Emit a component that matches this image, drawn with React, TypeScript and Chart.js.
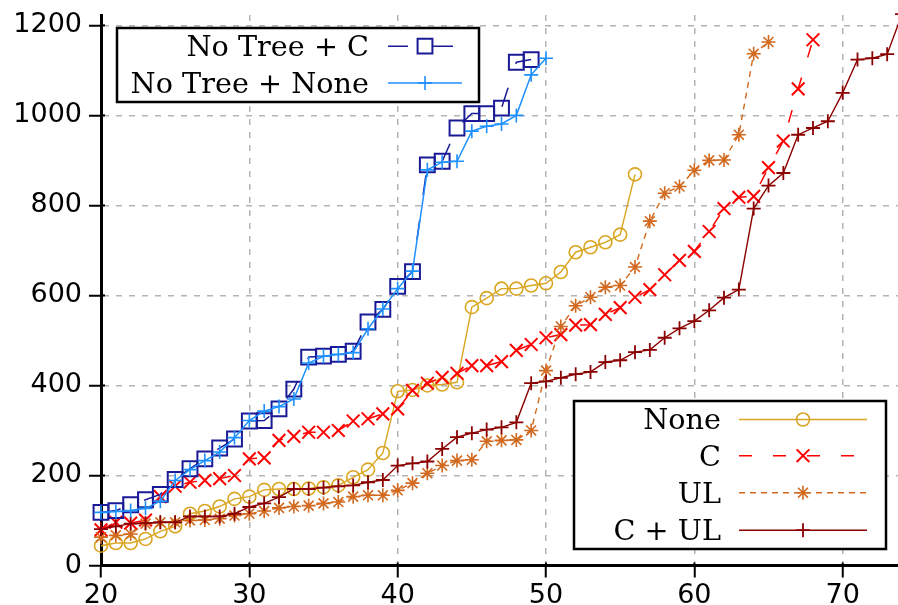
import React, { useEffect, useRef } from 'react';
import { Chart, registerables } from 'chart.js';

Chart.register(...registerables);

// ---- data ----
const X_START = 20;
const xTicks = [20, 30, 40, 50, 60, 70];
const yTicks = [0, 200, 400, 600, 800, 1000, 1200];

const noTreeC = [118, 122, 135, 146, 158, 191, 215, 237, 261, 281, 321, 322, 348, 392, 463, 465, 469, 476, 541, 569, 620, 653, 890, 898, 972, 1004, 1004, 1016, 1118, 1124];
const noTreeNone = [118, 120, 122, 127, 143, 189, 213, 233, 252, 284, 322, 343, 353, 370, 450, 465, 469, 473, 526, 570, 615, 654, 879, 896, 898, 965, 976, 981, 1000, 1090, 1127];
const none = [44, 50, 50, 59, 76, 87, 115, 121, 131, 148, 153, 168, 170, 170, 171, 174, 178, 196, 213, 250, 387, 390, 400, 402, 407, 574, 594, 615, 615, 622, 627, 652, 696, 707, 718, 735, 869];
const cOnly = [79, 96, 94, 101, 153, 176, 185, 189, 193, 200, 237, 239, 278, 287, 296, 296, 300, 321, 326, 337, 348, 389, 405, 418, 427, 444, 444, 453, 478, 491, 506, 513, 534, 535, 558, 573, 596, 613, 646, 678, 698, 742, 793, 818, 820, 884, 943, 1059, 1168];
const ulOnly = [63, 67, 70, 93, 96, 96, 100, 101, 104, 111, 115, 121, 128, 131, 133, 138, 141, 153, 156, 156, 167, 183, 205, 222, 233, 235, 276, 278, 279, 300, 433, 531, 577, 596, 618, 622, 663, 765, 827, 842, 878, 900, 901, 957, 1137, 1163];
const cUl = [81, 87, 93, 94, 96, 96, 109, 109, 109, 115, 130, 138, 152, 170, 170, 173, 176, 178, 185, 190, 222, 227, 231, 259, 285, 294, 302, 307, 318, 405, 409, 417, 425, 430, 452, 456, 474, 479, 506, 527, 543, 567, 595, 613, 793, 844, 872, 957, 972, 987, 1050, 1124, 1127, 1136, 1225];

const labels = ['No Tree + C', 'No Tree + None', 'None', 'C', 'UL', 'C + UL'];

type Style = { color: string; dash: number[]; point: string; r: number; bw: number; lw: number };
const styles: Style[] = [
  { color: '#1a1a96', dash: [20, 25], point: 'rect', r: 10.5, bw: 2, lw: 1.5 },
  { color: '#1e90ff', dash: [], point: 'cross', r: 7, bw: 1.6, lw: 1.5 },
  { color: '#daa520', dash: [], point: 'circle', r: 6.5, bw: 1.6, lw: 1.4 },
  { color: '#ff0000', dash: [13, 21], point: 'crossRot', r: 9, bw: 2, lw: 1.5 },
  { color: '#d2691e', dash: [6, 5], point: 'star', r: 7, bw: 1.6, lw: 1.4 },
  { color: '#8b0000', dash: [], point: 'cross', r: 7, bw: 1.8, lw: 1.4 },
];
const seriesValues = [noTreeC, noTreeNone, none, cOnly, ulOnly, cUl];

function toPoints(vals: number[]) {
  return vals.map((y, i) => ({ x: X_START + i, y }));
}

function drawMarker(ctx: CanvasRenderingContext2D, style: string, x: number, y: number, r: number) {
  ctx.beginPath();
  const s = r * Math.SQRT1_2;
  if (style === 'circle') {
    ctx.arc(x, y, r, 0, Math.PI * 2);
  } else if (style === 'rect') {
    ctx.rect(x - s, y - s, 2 * s, 2 * s);
  } else {
    if (style === 'cross' || style === 'star') {
      ctx.moveTo(x - r, y); ctx.lineTo(x + r, y);
      ctx.moveTo(x, y - r); ctx.lineTo(x, y + r);
    }
    if (style === 'crossRot' || style === 'star') {
      ctx.moveTo(x - s, y - s); ctx.lineTo(x + s, y + s);
      ctx.moveTo(x - s, y + s); ctx.lineTo(x + s, y - s);
    }
  }
  ctx.stroke();
}

type LegendBox = { x: number; y: number; w: number; h: number; textRight: number; s1: number; s2: number; baselines: number[]; idx: number[] };
const legendBoxes: LegendBox[] = [
  { x: 117, y: 28, w: 362, h: 74, textRight: 369, s1: 388, s2: 462, baselines: [56, 92.7], idx: [0, 1] },
  { x: 574, y: 401, w: 312, h: 148, textRight: 721, s1: 739, s2: 867, baselines: [429.3, 465.5, 502.5, 540], idx: [2, 3, 4, 5] },
];

const legendPlugin = {
  id: 'customLegends',
  afterDraw(chart: any) {
    const ctx: CanvasRenderingContext2D = chart.ctx;
    const area = chart.chartArea;
    // inward part of tick marks
    ctx.save();
    ctx.strokeStyle = '#000';
    ctx.lineWidth = 2;
    const xs = chart.scales.x;
    const ys = chart.scales.y;
    yTicks.forEach((v) => {
      const py = ys.getPixelForValue(v);
      ctx.beginPath(); ctx.moveTo(area.left, py); ctx.lineTo(area.left + 4, py); ctx.stroke();
    });
    xTicks.forEach((v) => {
      const px = xs.getPixelForValue(v);
      ctx.beginPath(); ctx.moveTo(px, area.bottom); ctx.lineTo(px, area.bottom - 3); ctx.stroke();
    });
    ctx.restore();

    legendBoxes.forEach((b) => {
      ctx.save();
      ctx.fillStyle = '#ffffff';
      ctx.fillRect(b.x, b.y, b.w, b.h);
      ctx.lineWidth = 2.5;
      ctx.strokeStyle = '#000';
      ctx.strokeRect(b.x, b.y, b.w, b.h);
      ctx.font = '28.7px "DejaVu Serif"';
      ctx.textAlign = 'right';
      ctx.textBaseline = 'alphabetic';
      b.idx.forEach((si, k) => {
        const st = styles[si];
        const base = b.baselines[k];
        const ly = base - 9.8;
        ctx.fillStyle = '#000';
        ctx.fillText(labels[si], b.textRight, base);
        ctx.strokeStyle = st.color;
        ctx.lineWidth = st.lw;
        ctx.setLineDash(st.dash);
        ctx.beginPath(); ctx.moveTo(b.s1, ly); ctx.lineTo(b.s2, ly); ctx.stroke();
        ctx.setLineDash([]);
        ctx.lineWidth = st.bw;
        drawMarker(ctx, st.point, (b.s1 + b.s2) / 2, ly, st.r);
      });
      ctx.restore();
    });
  },
};

export default function App() {
  const ref = useRef<HTMLCanvasElement | null>(null);
  useEffect(() => {
    if (!ref.current) return;
    // draw order: dataset 0 is drawn on top
    const order = [1, 0, 5, 4, 3, 2];
    const datasets = order.map((si) => {
      const st = styles[si];
      return {
        label: labels[si],
        data: toPoints(seriesValues[si]),
        borderColor: st.color,
        backgroundColor: 'rgba(0,0,0,0)',
        borderWidth: st.lw,
        borderDash: st.dash,
        pointStyle: st.point,
        pointRadius: st.r,
        pointHoverRadius: st.r,
        pointBorderWidth: st.bw,
        pointBorderColor: st.color,
        pointBackgroundColor: 'rgba(0,0,0,0)',
        tension: 0,
        fill: false,
        clip: false as any,
      };
    });
    const tickFont = { family: '"DejaVu Sans"', size: 27 };
    const chart = new Chart(ref.current, {
      type: 'line',
      data: { datasets },
      plugins: [legendPlugin],
      options: {
        animation: false,
        responsive: false,
        devicePixelRatio: 1,
        layout: { autoPadding: false, padding: { top: 15, left: 0, right: 0, bottom: 0 } },
        plugins: { legend: { display: false }, tooltip: { enabled: false } },
        events: [],
        scales: {
          x: {
            type: 'linear',
            min: 20,
            max: 73.73,
            afterBuildTicks: (s: any) => { s.ticks = xTicks.map((v) => ({ value: v })); },
            afterFit: (s: any) => { s.height = 39.5; s.paddingLeft = 0; s.paddingRight = 0; },
            ticks: { font: tickFont, color: '#000', padding: 2, maxRotation: 0, autoSkip: false, callback: (v: any) => String(v) },
            grid: { color: '#b3b3b3', lineWidth: 1.5, tickColor: '#000', tickWidth: 2, tickLength: 12, tickBorderDash: [] } as any,
            border: { display: true, color: '#000', width: 3, dash: [6, 7] },
          },
          y: {
            type: 'linear',
            min: 0,
            max: 1223,
            afterBuildTicks: (s: any) => { s.ticks = yTicks.map((v) => ({ value: v })); },
            afterFit: (s: any) => { s.width = 101; s.paddingTop = 0; s.paddingBottom = 0; },
            ticks: { font: tickFont, color: '#000', padding: 7, callback: (v: any) => String(v) },
            grid: { color: '#b3b3b3', lineWidth: 1.5, tickColor: '#000', tickWidth: 2, tickLength: 12, tickBorderDash: [] } as any,
            border: { display: true, color: '#000', width: 3, dash: [6, 7] },
          },
        },
      } as any,
    });
    return () => chart.destroy();
  }, []);
  return (
    <div style={{ position: 'fixed', left: 0, top: 0, width: 898, height: 605, background: '#fff' }}>
      <canvas ref={ref} width={898} height={605} style={{ width: 898, height: 605, display: 'block' }} />
    </div>
  );
}
